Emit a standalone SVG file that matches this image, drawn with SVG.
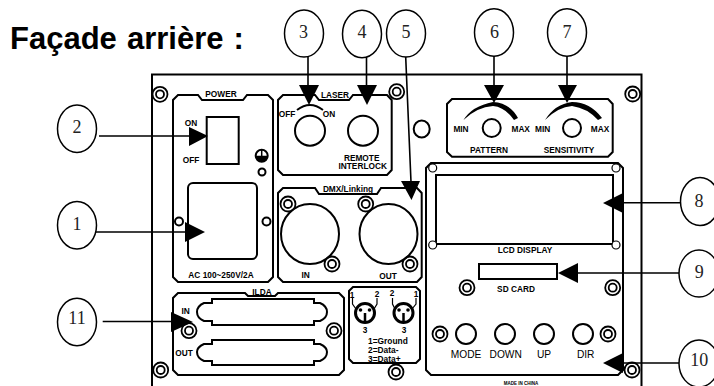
<svg xmlns="http://www.w3.org/2000/svg" width="714" height="386" viewBox="0 0 714 386">
<defs>
<style>
.p{fill:none;stroke:#000;stroke-width:2}
.t{fill:none;stroke:#000;stroke-width:1.5}
.c{fill:#fff;stroke:#000;stroke-width:1.2}
.l{font-family:"Liberation Sans",Arial,sans-serif;font-weight:700;font-size:8.3px;fill:#000;text-anchor:middle}
.x{font-family:"Liberation Sans",Arial,sans-serif;font-weight:700;font-size:8.4px;fill:#000}
.b{font-family:"Liberation Sans",Arial,sans-serif;font-size:10.2px;fill:#000;text-anchor:middle}
.n{font-family:"Liberation Serif","Times New Roman",serif;font-size:18px;fill:#222;text-anchor:middle}
.w{stroke:#000;stroke-width:1.2;fill:none}
.a{stroke:#000;stroke-width:1.6;fill:none}
</style>
<g id="sc"><circle r="7.500" fill="none" stroke="#000" stroke-width="1.8"/><circle r="4" fill="none" stroke="#000" stroke-width="1.8"/></g>
</defs>
<rect width="714" height="386" fill="#fff"/>
<text x="10" y="49" font-family="'Liberation Sans',Arial,sans-serif" font-weight="700" font-size="31px" word-spacing="1.5" fill="#000">Façade arrière :</text>
<path id="panel" class="p" d="M152 386V74.500H641.500V386"/>
<g id="power"><path class="p" d="M178 95H198L202 100H243L247 95H268L273 100V277L268 282H178L173 277V100Z"/>
<rect class="p" x="206.700" y="117" width="32" height="47"/>
<rect class="p" x="188" y="183" width="69" height="76" rx="5"/>
<circle class="p" cx="179" cy="221.500" r="4"/><circle class="p" cx="266.500" cy="221.500" r="4"/>
<circle class="p" cx="261.700" cy="155.700" r="6"/><path d="M255.700 155.700H267.700A6 6 0 0 1 255.700 155.700Z"/><path class="t" d="M261.700 150V156"/><circle class="p" cx="262" cy="172" r="3.500"/>
<text class="l" x="221" y="96.700">POWER</text><text class="l" x="191" y="126">ON</text><text class="l" x="191" y="162.700">OFF</text><text class="l" x="221" y="277.700">AC 100~250V/2A</text></g>
<g id="laser"><path class="p" d="M283 95H315L319 100H349L353 95H387L391.700 100V170L387 175H283L278 170V100Z"/>
<circle class="p" cx="310" cy="130.700" r="15"/><circle class="p" cx="363" cy="130.700" r="15"/>
<path class="p" d="M297 110Q310 100 323 110"/>
<text class="l" x="335" y="98.300">LASER</text><text class="l" x="287" y="117">OFF</text><text class="l" x="329" y="117">ON</text>
<text class="l" x="361.700" y="160.700">REMOTE</text><text class="l" x="362.700" y="169.300">INTERLOCK</text></g>
<g id="dmx"><path class="p" d="M283 188H315L319 194H377L381 188H417L421.700 193V277L417 282H283L278 277V193Z"/>
<ellipse class="p" cx="310" cy="234" rx="29" ry="30"/><ellipse class="p" cx="388.500" cy="234" rx="29" ry="30"/>
<text class="l" x="348" y="191.700">DMX/Linking</text><text class="l" x="305.700" y="278">IN</text><text class="l" x="388" y="279">OUT</text></g>
<g id="effects"><path class="p" d="M452 99H608L612.700 104V152L608 156.700H452L447 152V104Z"/>
<path d="M463.500 120Q472 106 493 102Q510 103 518 118L514 120Q505 107 493 106Q477 107 463.500 120Z"/><path d="M545 120Q555 104 572 102Q590 102 602 118L598 120Q587 108 572 106Q558 107 545 120Z"/>
<circle class="p" cx="491.700" cy="128" r="9"/><circle class="p" cx="572" cy="128" r="9"/>
<text class="l" x="461" y="132.300">MIN</text><text class="l" x="520.700" y="132.300">MAX</text><text class="l" x="542.700" y="132.300">MIN</text><text class="l" x="600" y="132.300">MAX</text>
<text class="l" x="489" y="152.700">PATTERN</text><text class="l" x="569" y="152.700">SENSITIVITY</text></g>
<g id="control"><path class="p" d="M431 163H618L623 168V370L618 375H431L426 370V168Z"/>
<rect class="p" x="436" y="175" width="177" height="69"/>
<circle class="c" cx="432.700" cy="168" r="4"/><circle class="c" cx="616" cy="168" r="4"/><circle class="c" cx="432.700" cy="245" r="4"/><circle class="c" cx="616" cy="245" r="4"/>
<rect class="p" x="479" y="264" width="78" height="15"/>
<circle class="p" cx="466" cy="334" r="10"/><circle class="p" cx="505" cy="334" r="10"/><circle class="p" cx="544" cy="334" r="10"/><circle class="p" cx="583" cy="334" r="10"/>
<text class="l" x="525" y="253.300">LCD DISPLAY</text><text class="l" x="516" y="291.700">SD CARD</text>
<text class="b" x="466" y="358">MODE</text><text class="b" x="505.700" y="358">DOWN</text><text class="b" x="544" y="358">UP</text><text class="b" x="585.700" y="358">DIR</text>
<text class="l" x="521" y="385" style="font-size:4.500px">MADE IN CHINA</text></g>
<g id="ilda"><path class="p" d="M178 293H245L248 296H275L278 293H339L344 298V370L339 375H178L173 370V298Z"/>
<path class="p" d="M212 299H314V303H320Q327 306 327 312Q327 318 320 321H314V325H212V321H204Q197 318 197 312Q197 306 204 303H212Z"/>
<path class="p" d="M212 340H314V344H320Q327 347 327 352Q327 358 320 361H314V365H212V361H204Q197 358 197 352Q197 347 204 344H212Z"/>
<text class="l" x="262" y="295">ILDA</text><text class="l" x="185.700" y="314">IN</text><text class="l" x="184" y="356">OUT</text></g>
<g id="xlr"><path class="p" d="M353 287H416L420 291V359L416 363H353L349 359V291Z"/>
<circle cx="365" cy="313" r="9.500" fill="none" stroke="#000" stroke-width="3"/><circle cx="403.500" cy="313" r="9.500" fill="none" stroke="#000" stroke-width="3"/>
<circle cx="360.500" cy="310" r="1.800"/><circle cx="369.500" cy="310" r="1.800"/><circle cx="399" cy="310" r="1.800"/><circle cx="408" cy="310" r="1.800"/>
<path class="w" d="M352.500 298V304L356 309M377 298V304L374 309M392.500 298V304L395 309M416 298V304L412 309"/><path d="M365 313V323M403.500 313V323" stroke="#000" stroke-width="2.500"/>
<text class="l" x="352" y="298">1</text><text class="l" x="377" y="297">2</text><text class="l" x="392" y="296">2</text><text class="l" x="416" y="297">1</text><text class="l" x="365" y="333">3</text><text class="l" x="404" y="333">3</text>
<text class="x" x="368" y="344">1=Ground</text><text class="x" x="368" y="353">2=Data-</text><text class="x" x="368" y="362">3=Data+</text></g>
<g id="hardware"><use href="#sc" x="160" y="94.300"/><use href="#sc" x="396.700" y="91.700"/><use href="#sc" x="632.700" y="94"/><use href="#sc" x="288" y="204"/><use href="#sc" x="365.700" y="204"/><use href="#sc" x="332" y="264"/><use href="#sc" x="410" y="264"/><use href="#sc" x="189" y="330.700"/><use href="#sc" x="334" y="330.700"/><use href="#sc" x="160.700" y="370"/><use href="#sc" x="396" y="372"/><use href="#sc" x="467" y="287.700"/><use href="#sc" x="612.700" y="287.700"/><use href="#sc" x="440" y="334"/><use href="#sc" x="608" y="334"/><use href="#sc" x="632" y="370"/>
<ellipse class="p" cx="421.700" cy="129" rx="8" ry="8.500"/></g>
<g id="connectors"><path class="a" d="M99 136H190M96 232H186M102.700 321.500H172M308 57V86M366.500 57V86M405.700 57L411 182M494 56V86M567 56V86M680 202.700H622M679 273H577M679 363H622"/>
<path d="M189 127L208 136L189 146ZM185 222L205 232L185 242ZM171 312L193 322L171 332ZM299 85H319L309 105ZM357 85H377L367 105ZM401 181H420L411.500 200ZM484 85H504L494 103ZM558 85H577L567 103ZM623 193V213L603 203ZM578 263V283L558 273ZM623 353V373L603 363Z"/></g>
<g id="n1"><ellipse class="t" cx="77" cy="225.300" rx="19.500" ry="23.700"/><text class="n" x="77" y="230">1</text></g>
<g id="n2"><ellipse class="t" cx="77" cy="128.700" rx="19.500" ry="23.700"/><text class="n" x="77" y="132.500">2</text></g>
<g id="n3"><ellipse class="t" cx="304" cy="33.500" rx="19.500" ry="23.500"/><text class="n" x="303.500" y="38">3</text></g>
<g id="n4"><ellipse class="t" cx="362" cy="34" rx="19.500" ry="23.700"/><text class="n" x="362" y="38">4</text></g>
<g id="n5"><ellipse class="t" cx="406" cy="33.500" rx="19.500" ry="23.500"/><text class="n" x="406" y="38">5</text></g>
<g id="n6"><ellipse class="t" cx="494" cy="32.500" rx="19.500" ry="23.700"/><text class="n" x="494.500" y="38">6</text></g>
<g id="n7"><ellipse class="t" cx="567" cy="32.500" rx="19.500" ry="23.700"/><text class="n" x="567" y="38">7</text></g>
<g id="n8"><ellipse class="t" cx="700" cy="201.500" rx="19.500" ry="24"/><text class="n" x="699" y="207">8</text></g>
<g id="n9"><ellipse class="t" cx="699" cy="273.500" rx="20" ry="23.500"/><text class="n" x="699.300" y="277.500">9</text></g>
<g id="n10"><ellipse class="t" cx="699" cy="363.500" rx="20" ry="23.500"/><text class="n" x="699.300" y="366">10</text></g>
<g id="n11"><ellipse class="t" cx="77" cy="322" rx="19.500" ry="23.700"/><text class="n" x="77" y="324">11</text></g>
</svg>
